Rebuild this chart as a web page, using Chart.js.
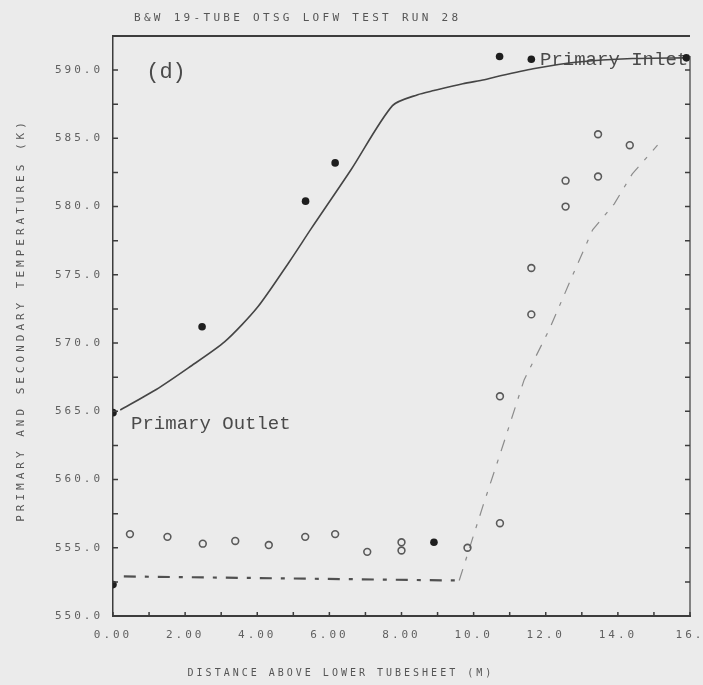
<!DOCTYPE html>
<html>
<head>
<meta charset="utf-8">
<script src="https://cdn.jsdelivr.net/npm/chart.js@4.4.1/dist/chart.umd.min.js"></script>
<style>
  html, body { margin: 0; padding: 0; background: #ebebeb; }
  #wrap { width: 703px; height: 685px; position: relative; }
</style>
</head>
<body>
<div id="wrap"><canvas id="temp-chart"></canvas></div>
<script>
/* ----------------------------
   DATA
   ---------------------------- */
var titleText   = "B&W 19-TUBE OTSG LOFW TEST RUN 28";
var xAxisTitle  = "DISTANCE ABOVE LOWER TUBESHEET (M)";
var yAxisTitle  = "PRIMARY AND SECONDARY TEMPERATURES (K)";
var panelLabel  = "(d)";
var outletLabel = "Primary Outlet";
var inletLabel  = "Primary Inlet";

var xTickLabels = ["0.00", "2.00", "4.00", "6.00", "8.00", "10.0", "12.0", "14.0", "16."];
var yTickLabels = ["550.0", "555.0", "560.0", "565.0", "570.0", "575.0", "580.0", "585.0", "590.0"];

// measured primary temperatures (filled dots)
var primaryX = [0.0, 0.0, 2.47, 5.34, 6.16, 8.9, 10.72, 11.6, 15.9];
var primaryY = [564.9, 552.3, 571.2, 580.4, 583.2, 555.4, 591.0, 590.8, 590.9];

// measured secondary temperatures (open circles)
var secondaryX = [0.47, 1.51, 2.49, 3.39, 4.32, 5.33, 6.16, 7.05, 8.0, 8.0,
                  9.83, 10.73, 10.73, 11.6, 11.6, 12.55, 12.55, 13.45, 13.45, 14.33];
var secondaryY = [556.0, 555.8, 555.3, 555.5, 555.2, 555.8, 556.0, 554.7, 555.4, 554.8,
                  555.0, 556.8, 566.1, 572.1, 575.5, 580.0, 581.9, 582.2, 585.3, 584.5];

// calculated primary (solid line)
var primaryCalcX = [0.2, 1.2, 2.1, 3.1, 4.0, 4.9, 5.5, 6.6, 7.75, 8.45, 8.9,
                    9.7, 10.3, 10.6, 11.65, 12.9, 14.4, 15.9];
var primaryCalcY = [565.1, 566.6, 568.2, 570.1, 572.6, 576.0, 578.4, 582.7, 587.4, 588.2, 588.5,
                    589.0, 589.3, 589.5, 590.1, 590.6, 590.85, 590.9];

// calculated secondary (dash-dot line)
var secondaryCalcX = [0.3, 9.6, 10.25, 10.8, 11.4, 12.1, 12.8, 13.3, 13.9, 14.4, 15.1];
var secondaryCalcY = [552.9, 552.6, 558.0, 562.4, 567.3, 571.0, 575.3, 578.3, 580.2, 582.4, 584.5];

/* ----------------------------
   HELPERS
   ---------------------------- */
function toPoints(xs, ys) {
  return xs.map(function (x, i) { return { x: x, y: ys[i] }; });
}

var INK = "#3c3c3c";
var TEXT = "#606060";
var MONO = "'DejaVu Sans Mono', monospace";
var COURIER = "'Liberation Mono', 'Courier New', monospace";

/* ----------------------------
   PLUGIN: paper background, frame, inward ticks, lettering
   ---------------------------- */
var paperPlugin = {
  id: "paper",
  beforeDraw: function (chart) {
    var ctx = chart.ctx;
    ctx.save();
    ctx.fillStyle = "#ebebeb";
    ctx.fillRect(0, 0, chart.width, chart.height);
    ctx.restore();
    ctx.letterSpacing = "3px";   // tick labels use wide plotter spacing
  },
  beforeDatasetsDraw: function (chart) {
    var ctx = chart.ctx;
    var xs = chart.scales.x, ys = chart.scales.y;
    ctx.save();
    ctx.letterSpacing = "0px";
    ctx.fillStyle = "#4a4a4a";
    ctx.textBaseline = "middle";
    ctx.textAlign = "left";

    ctx.font = "22px " + COURIER;
    ctx.fillText(panelLabel, xs.getPixelForValue(0.92), ys.getPixelForValue(589.85));

    ctx.font = "19px " + COURIER;
    ctx.fillText(outletLabel, xs.getPixelForValue(0.5), ys.getPixelForValue(564.1));
    ctx.fillText(inletLabel, xs.getPixelForValue(11.84), ys.getPixelForValue(590.75));
    ctx.restore();
  },
  afterDraw: function (chart) {
    var ctx = chart.ctx;
    var a = chart.chartArea;
    var xs = chart.scales.x, ys = chart.scales.y;

    ctx.save();
    ctx.letterSpacing = "0px";
    ctx.strokeStyle = INK;

    // top and right frame
    ctx.lineWidth = 2;
    ctx.beginPath();
    ctx.moveTo(a.left, a.top);
    ctx.lineTo(a.right, a.top);
    ctx.stroke();
    ctx.lineWidth = 1.2;
    ctx.beginPath();
    ctx.moveTo(a.right, a.top + 20);
    ctx.lineTo(a.right, a.bottom);
    ctx.stroke();

    // inward tick marks
    ctx.lineWidth = 1.5;
    ctx.beginPath();
    xs.ticks.forEach(function (t) {
      var px = xs.getPixelForValue(t.value);
      ctx.moveTo(px, a.bottom);
      ctx.lineTo(px, a.bottom - 4);
    });
    ys.ticks.forEach(function (t) {
      if (t.value >= ys.max) { return; }
      var py = ys.getPixelForValue(t.value);
      ctx.moveTo(a.left, py);
      ctx.lineTo(a.left + 5, py);
      ctx.moveTo(a.right, py);
      ctx.lineTo(a.right - 5, py);
    });
    ctx.stroke();

    // titles
    ctx.fillStyle = "#555555";
    ctx.textBaseline = "middle";
    ctx.textAlign = "left";
    ctx.font = "11px " + MONO;
    ctx.letterSpacing = "3.3px";
    ctx.fillText(titleText, 134, 18);

    ctx.font = "10px " + MONO;
    ctx.letterSpacing = "3px";
    ctx.textAlign = "center";
    ctx.fillText(xAxisTitle, a.left + (a.right - a.left) * 0.395, 673);

    ctx.translate(21, (a.top + a.bottom) / 2 - 6);
    ctx.rotate(-Math.PI / 2);
    ctx.font = "11px " + MONO;
    ctx.letterSpacing = "4px";
    ctx.fillText(yAxisTitle, 0, 0);
    ctx.restore();
  }
};

/* ----------------------------
   CHART
   ---------------------------- */
var canvas = document.getElementById("temp-chart");
var ctx = canvas.getContext("2d");

var tempChart = new Chart(ctx, {
  type: "scatter",
  data: {
    datasets: [
      {
        label: "Calc. primary",
        data: toPoints(primaryCalcX, primaryCalcY),
        showLine: true,
        borderColor: "#454545",
        borderWidth: 1.6,
        pointRadius: 0,
        tension: 0.25,
        order: 3
      },
      {
        label: "Calc. secondary",
        data: toPoints(secondaryCalcX, secondaryCalcY),
        showLine: true,
        borderColor: "#505050",
        borderWidth: 2.2,
        borderDash: [12, 9, 4, 9],
        pointRadius: 0,
        segment: {
          borderColor: function (c) { return c.p0.parsed.x >= 9.5 ? "#8c8c8c" : undefined; },
          borderWidth: function (c) { return c.p0.parsed.x >= 9.5 ? 1.2 : undefined; }
        },
        order: 4
      },
      {
        label: "Primary data",
        data: toPoints(primaryX, primaryY),
        pointStyle: "circle",
        pointRadius: 3.8,
        backgroundColor: "#1e1e1e",
        borderColor: "#1e1e1e",
        borderWidth: 0,
        order: 1
      },
      {
        label: "Secondary data",
        data: toPoints(secondaryX, secondaryY),
        pointStyle: "circle",
        pointRadius: 3.4,
        backgroundColor: "rgba(0,0,0,0)",
        borderColor: "#5a5a5a",
        borderWidth: 1.6,
        order: 2
      }
    ]
  },
  options: {
    responsive: true,
    maintainAspectRatio: false,
    animation: false,
    layout: { padding: { top: 36, right: 13, left: 0, bottom: 0 } },
    plugins: {
      legend: { display: false },
      tooltip: { enabled: false }
    },
    scales: {
      x: {
        type: "linear",
        min: 0,
        max: 16,
        afterFit: function (scale) {
          scale.height = 69;
          scale.paddingRight = 0;   // let "16." run into the page margin like the scan
        },
        grid: { display: true, drawOnChartArea: false, drawTicks: false },
        border: { display: true, color: INK, width: 2 },
        ticks: {
          stepSize: 1,
          autoSkip: false,
          maxRotation: 0,
          padding: 13,
          color: TEXT,
          font: { family: MONO, size: 11 },
          callback: function (v) { return v % 2 === 0 ? xTickLabels[v / 2] : ""; }
        }
      },
      y: {
        min: 550,
        max: 592.5,
        afterFit: function (scale) { scale.width = 113; },
        grid: { display: true, drawOnChartArea: false, drawTicks: false },
        border: { display: true, color: INK, width: 1.5 },
        ticks: {
          stepSize: 2.5,
          autoSkip: false,
          padding: 10,
          color: TEXT,
          font: { family: MONO, size: 11 },
          callback: function (v) { return v % 5 === 0 ? yTickLabels[(v - 550) / 5] : ""; }
        }
      }
    }
  },
  plugins: [paperPlugin]
});
</script>
</body>
</html>
